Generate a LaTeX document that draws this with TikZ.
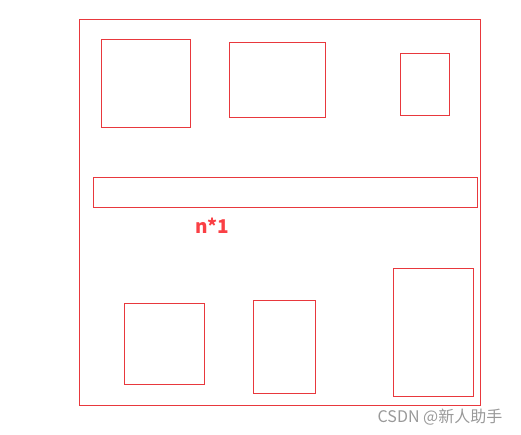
\documentclass[tikz,border=0pt]{standalone}
\usepackage{fontspec}
\setsansfont{Noto Sans}
\newfontfamily\cjk{Noto Sans CJK SC}
\usepackage{tikz}

\begin{document}
\begin{tikzpicture}[x=1pt,y=-1pt]
\definecolor{cb}{rgb}{0.91,0.22,0.24}
\definecolor{cl}{rgb}{0.98,0.25,0.27}
\definecolor{cw}{rgb}{0.6,0.6,0.6}
\tikzset{box/.style={draw=cb,line width=0.8pt,anchor=north west,inner sep=0pt,outer sep=0pt}}
\useasboundingbox (0,0) rectangle (521,435);
%
\node[box,minimum width=401pt,minimum height=386pt] (frame) at (79,19) {};
\node[box,minimum width=89pt,minimum height=88pt] (b1) at (101,39) {};
\node[box,minimum width=96pt,minimum height=75pt] (b2) at (229,42) {};
\node[box,minimum width=49pt,minimum height=62pt] (b3) at (400,53) {};
\node[box,minimum width=384pt,minimum height=30pt] (bar) at (93,177) {};
\node[box,minimum width=80pt,minimum height=81pt] (b4) at (124,303) {};
\node[box,minimum width=62pt,minimum height=93pt] (b5) at (253,300) {};
\node[box,minimum width=80pt,minimum height=128pt] (b6) at (393,268) {};
%
\node[text=cl,font=\cjk\bfseries\fontsize{19}{22}\selectfont,inner sep=0pt] (lbl) at (212,226) {n*1};
\node[text=cw,font=\cjk\fontsize{16}{18}\selectfont,inner sep=0pt] (mark) at (440,417) {CSDN @新人助手};
%
\end{tikzpicture}
\end{document}
